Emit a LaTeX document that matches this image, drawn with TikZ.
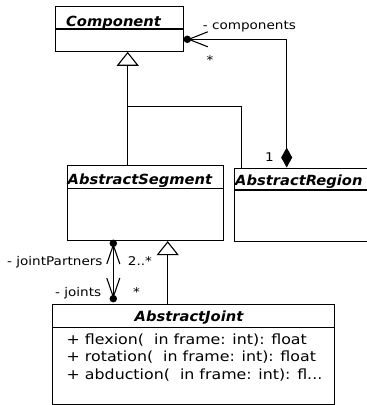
\documentclass[tikz,border=0pt]{standalone}
\usepackage{fontspec}
\setmainfont{DejaVu Sans}[FakeStretch=1.13]
\newfontfamily\titlefont{DejaVu Sans}[FakeStretch=1.05]
\usetikzlibrary{arrows.meta}
\tikzset{
  classbox/.style={draw, line width=1.1pt, rectangle, inner sep=0pt, anchor=north west},
  ctitle/.style={anchor=base west, inner sep=0pt, font=\titlefont\fontsize{14}{16}\selectfont\bfseries\itshape},
  attr/.style={anchor=base west, inner sep=0pt, font=\fontsize{14}{17.5}\selectfont},
  lbl/.style={anchor=base west, inner sep=0pt, font=\fontsize{12}{14}\selectfont},
  conn/.style={line width=1.1pt},
  gen/.style={conn, -{Triangle[open, length=14pt, width=22pt]}},
  compo/.style={conn, {Diamond[length=20pt, width=11pt]}-{Straight Barb[length=19pt, width=15pt]}},
  assoc/.style={conn, {Straight Barb[length=19pt, width=13pt]}-{Straight Barb[length=19pt, width=13pt]}},
  dotnode/.style={circle, fill, inner sep=0pt, minimum size=7.5pt},
}
\begin{document}
\begin{tikzpicture}[x=1pt, y=-1pt]
\path[use as bounding box] (0,0) rectangle (367,405);
\clip (0,0) rectangle (367,405);
% classes
\node[classbox, minimum width=128pt, minimum height=45pt] (comp) at (55,5.7) {};
\draw[conn] ([yshift=-23.3pt]comp.north west) -- ([yshift=-23.3pt]comp.north east);
\node[classbox, minimum width=155.7pt, minimum height=75.5pt] (seg) at (67,164.5) {};
\draw[conn] ([yshift=-23.8pt]seg.north west) -- ([yshift=-23.8pt]seg.north east);
\node[classbox, minimum width=150pt, minimum height=73.5pt] (reg) at (234.3,167.5) {};
\draw[conn] ([yshift=-22.5pt]reg.north west) -- ([yshift=-22.5pt]reg.north east);
\node[classbox, minimum width=282.3pt, minimum height=99.5pt] (joint) at (51.7,304) {};
\draw[conn] ([yshift=-23.5pt]joint.north west) -- ([yshift=-23.5pt]joint.north east);
% titles
\node[ctitle] (tcomp) at (66,26.5) {Component};
\node[ctitle] (tseg) at (67.5,184.5) {AbstractSegment};
\node[ctitle] (treg) at (235,185.5) {AbstractRegion};
\node[ctitle, anchor=base] (tjoint) at (189,321) {AbstractJoint};
% attributes
\node[attr] (a1) at (66.5,344) {+ flexion(\ \ in frame: int): float};
\node[attr] (a2) at (66.5,361.5) {+ rotation(\ \ in frame: int): float};
\node[attr] (a3) at (66.5,379) {+ abduction(\ \ in frame: int): fl...};
% generalizations
\coordinate (b1) at (127.7,106.7);
\coordinate (b2) at (241.7,106.7);
\draw[gen] (b1 |- seg.north) -- (b1) -- (b1 |- comp.south);
\draw[conn] (b2 |- reg.north) -- (b2) -- (b1);
\coordinate (g2) at (167.7,0);
\draw[gen] (g2 |- joint.north) -- (g2 |- seg.south);
% composition
\node[dotnode] (d1) at (187.3,39.3) {};
\coordinate (c1) at (286.7,39.3);
\draw[compo] (c1 |- reg.north) -- (c1) -- (d1.center);
% association
\node[dotnode] (d2) at (113.3,243.3) {};
\node[dotnode] (d3) at (113.3,298.7) {};
\draw[assoc] (d2.center) -- (d3.center);
% labels
\node[lbl] (lcomp) at (202.7,29) {- components};
\node[lbl] (lstar1) at (206.5,64) {*};
\node[lbl] (lone) at (265,161) {1};
\node[lbl] (ljp) at (7,265.5) {- jointPartners};
\node[lbl] (l2) at (127.7,265.5) {2..*};
\node[lbl] (lj) at (55,296) {- joints};
\node[lbl] (lstar2) at (133,296.5) {*};
\end{tikzpicture}
\end{document}
